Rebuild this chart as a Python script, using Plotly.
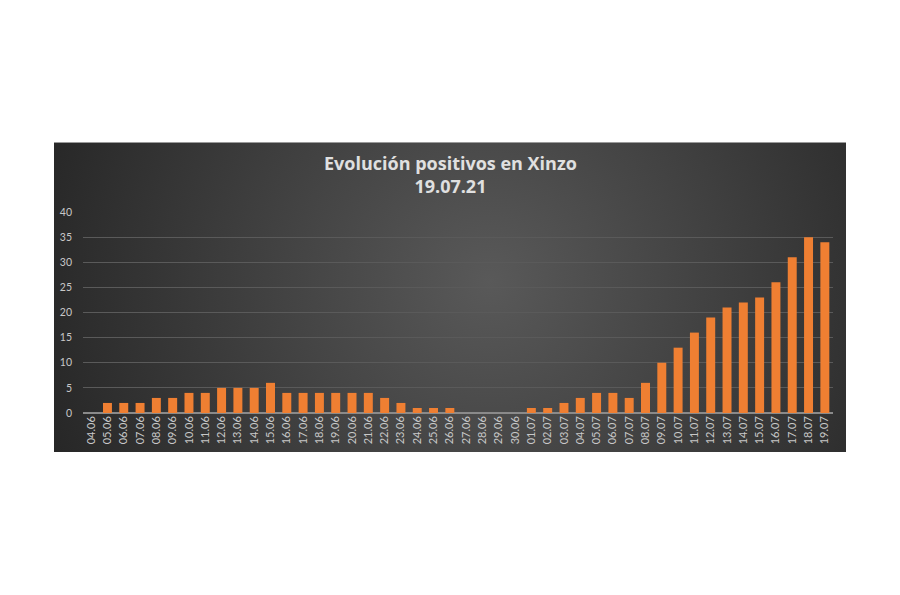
import base64
import plotly.graph_objects as go

fechas = ["04.06", "05.06", "06.06", "07.06", "08.06", "09.06", "10.06", "11.06", "12.06", "13.06",
          "14.06", "15.06", "16.06", "17.06", "18.06", "19.06", "20.06", "21.06", "22.06", "23.06",
          "24.06", "25.06", "26.06", "27.06", "28.06", "29.06", "30.06", "01.07", "02.07", "03.07",
          "04.07", "05.07", "06.07", "07.07", "08.07", "09.07", "10.07", "11.07", "12.07", "13.07",
          "14.07", "15.07", "16.07", "17.07", "18.07", "19.07"]
positivos = [0, 2, 2, 2, 3, 3, 4, 4, 5, 5,
             5, 6, 4, 4, 4, 4, 4, 4, 3, 2,
             1, 1, 1, 0, 0, 0, 0, 1, 1, 2,
             3, 4, 4, 3, 6, 10, 13, 16, 19, 21,
             22, 23, 26, 31, 35, 34]
y_ticks = [0, 5, 10, 15, 20, 25, 30, 35, 40]

OFF = 8  # page body margin
W, H = 900, 595
L, R, T, B = 83 - OFF, 833 - OFF, 212 - OFF, 413 - OFF  # plot area in pixels
pw, ph = R - L, B - T

def px_x(x):
    return (x - OFF - L) / pw

def px_y(y):
    return (B - (y - OFF)) / ph

# dark panel with radial gradient
svg = """<svg xmlns='http://www.w3.org/2000/svg' width='792' height='310' preserveAspectRatio='none'>
<defs><radialGradient id='g' cx='0.55' cy='0.45' r='0.6' gradientTransform='translate(0.55 0.45) scale(1 2.5) translate(-0.55 -0.45)'>
<stop offset='0' stop-color='#595959'/><stop offset='1' stop-color='#262626'/></radialGradient></defs>
<rect width='792' height='310' fill='url(#g)'/></svg>"""
src = "data:image/svg+xml;base64," + base64.b64encode(svg.encode()).decode()

fig = go.Figure()
fig.add_trace(go.Bar(
    x=fechas, y=positivos,
    marker=dict(color="#ef7f32", line=dict(width=0)),
    hoverinfo="x+y",
))

fig.update_layout(
    width=W, height=H,
    paper_bgcolor="white",
    plot_bgcolor="rgba(0,0,0,0)",
    margin=dict(l=L, r=W - R, t=T, b=H - B, pad=0),
    bargap=0.45,
    showlegend=False,
    images=[dict(source=src, xref="paper", yref="paper",
                 x=px_x(54), y=px_y(142),
                 sizex=(846 - 54) / pw, sizey=(452 - 142) / ph,
                 xanchor="left", yanchor="top", sizing="stretch", layer="below")],
    shapes=[dict(type="line", xref="paper", yref="paper",
                 x0=px_x(54), x1=px_x(846), y0=px_y(142.5), y1=px_y(142.5),
                 line=dict(color="#9a9a9a", width=1), layer="below")],
    annotations=[dict(text="<b>Evolución positivos en Xinzo</b><br><b>19.07.21</b>",
                      xref="paper", yref="paper", x=px_x(450), y=px_y(149),
                      xanchor="center", yanchor="top", showarrow=False, align="center",
                      font=dict(family="Open Sans", size=18, color="#e0e0e0"))],
    xaxis=dict(
        type="category", tickangle=-90, showgrid=False,
        tickfont=dict(family="Lato", size=11, color="#c8c8c8"),
        showline=False, ticks="", zeroline=False,
    ),
    yaxis=dict(
        range=[0, 40], tickvals=y_ticks, showgrid=True, gridcolor="#5a5a5a", gridwidth=1,
        zeroline=True, zerolinecolor="#8a8a8a", zerolinewidth=2,
        tickfont=dict(family="Lato", size=10.5, color="#c8c8c8"),
        ticks="", ticklabelstandoff=10, fixedrange=True,
    ),
)

fig.write_html("out.html")
